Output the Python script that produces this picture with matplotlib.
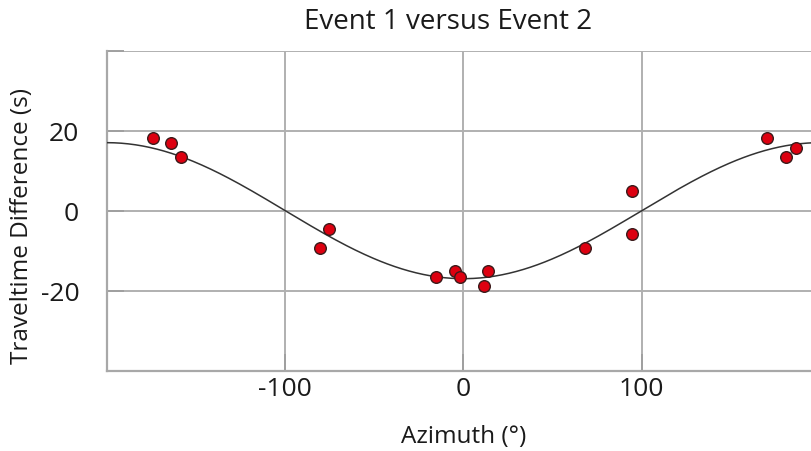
import numpy as np
import matplotlib.pyplot as plt

# azimuth (deg) and traveltime difference (s) between the two events
azimuth = [-174.4, -163.9, -158.3, -80.5, -75.2, -15.7, -4.7, -2.2, 11.6, 13.9,
           68.1, 94.8, 94.8, 170.2, 181.2, 186.4]
dt = [18.2, 17.0, 13.5, -9.4, -4.5, -16.6, -15.2, -16.6, -18.8, -15.2,
      -9.4, 5.0, -5.8, 18.2, 13.5, 15.7]

# fitted cosine model: dt = -amp * cos(2*pi*az / period)
fit_amp = 17.0
fit_period = 400.0

xticks = [-100, 0, 100]
yticks = [-40, -20, 0, 20, 40]
ytick_labels = ['', '-20', '0', '20', '']

plt.rcParams['font.family'] = ['Open Sans', 'DejaVu Sans']

fig = plt.figure(figsize=(8.12, 4.52), dpi=100)
ax = fig.add_axes([107 / 812, 0.1777, 713 / 812, 0.708])

az_line = np.linspace(-200, 200, 400)
ax.plot(az_line, -fit_amp * np.cos(2 * np.pi * az_line / fit_period),
        color='#333333', lw=1.1, zorder=3)
ax.scatter(azimuth, dt, s=70, c='#dd0010', edgecolors='#3a1a1a',
           linewidths=1.0, zorder=4)

ax.set_xlim(-200, 200)
ax.set_ylim(-40, 40)
ax.set_xticks(xticks)
ax.set_xticklabels([str(t) for t in xticks])
ax.set_yticks(yticks)
ax.set_yticklabels(ytick_labels)

ax.grid(True, color='#b0b0b0', lw=1.4)
ax.set_axisbelow(True)
for side in ['top', 'right']:
    ax.spines[side].set_visible(False)
for side in ['left', 'bottom']:
    ax.spines[side].set_color('#a8a8a8')
    ax.spines[side].set_linewidth(1.6)

ax.tick_params(axis='both', direction='in', length=12, width=1.4,
               color='#a0a0a0', labelsize=19, labelcolor='#1a1a1a')
ax.tick_params(axis='x', pad=4)
ax.tick_params(axis='y', pad=20)

fig.text(448 / 812, 1 - 22 / 452, 'Event 1 versus Event 2', ha='center',
         va='center', fontsize=20, color='#1a1a1a')
fig.text(464 / 812, 1 - 437 / 452, 'Azimuth (°)', ha='center', va='center',
         fontsize=17.5, color='#1a1a1a')
fig.text(22 / 812, 1 - 226 / 452, 'Traveltime Difference (s)', ha='center',
         va='center', rotation=90, fontsize=17.5, color='#1a1a1a')

fig.savefig('out.png', dpi=100)
